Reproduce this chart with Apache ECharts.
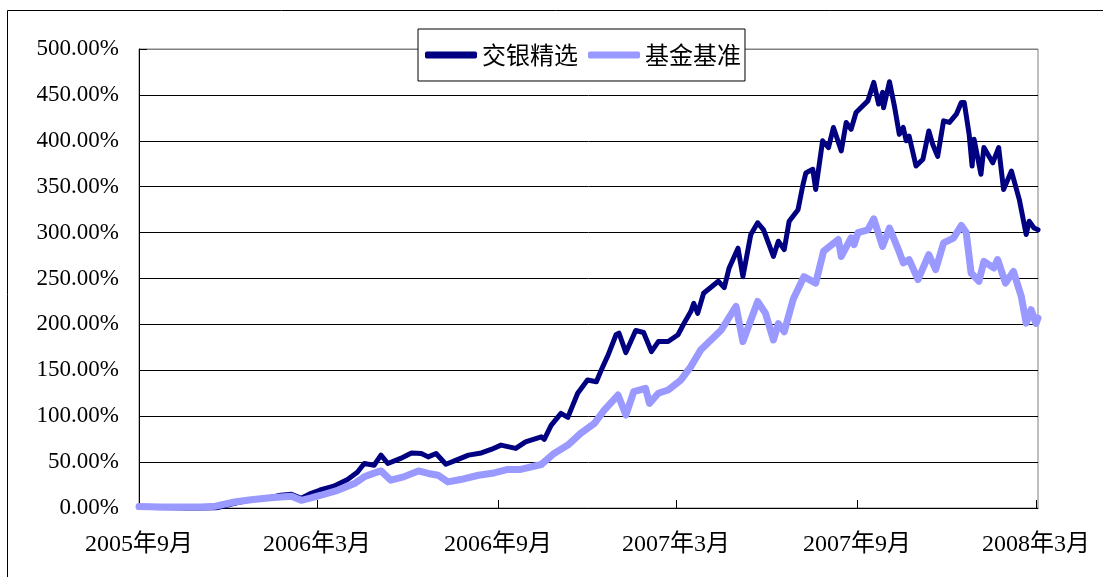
<!DOCTYPE html>
<html>
<head>
<meta charset="utf-8">
<script src="https://cdn.jsdelivr.net/npm/echarts@6/dist/echarts.min.js"></script>
<style>
html,body{margin:0;padding:0;background:#fff;}
#chart{width:1103px;height:577px;}
</style>
</head>
<body>
<div id="chart"></div>
<script>
// x values: days since 2005-09-01
const seriesNames = ['交银精选', '基金基准'];
const tickDays = [0, 181, 365, 546, 730, 912];
const tickLabels = ['2005年9月', '2006年3月', '2006年9月', '2007年3月', '2007年9月', '2008年3月'];

const fundDays = [0,12,33,48,63,78,97,114,131,144,155,165,175,182,185,198,212,222,229,239,246,253,266,277,287,294,302,312,320,335,348,358,368,383,393,409,412,419,429,436,446,456,465,470,477,485,488,495,505,513,521,528,538,548,554,561,564,568,574,589,595,600,609,614,622,629,635,645,650,656,661,670,675,678,685,688,695,701,706,714,719,724,729,741,747,752,756,757,763,768,773,777,780,783,790,797,803,807,812,818,824,831,836,839,844,847,849,856,859,868,874,879,887,895,902,905,910,914];
const fundValues = [0.5,0.5,0,-0.5,-0.5,0,5,9,11,14,15,10.6,16,18.6,20,23.7,31,39,48.5,46.6,57.6,48.5,54,60,59.4,55.7,59.4,47.7,51,57.6,60,63.8,68.5,64.9,72,77.6,74.7,90,103,98.7,125,139.5,137.6,150.4,166.8,188.7,190.5,169.3,193.4,191.2,170.4,181.3,181.3,188.7,201,214,223,212,234,247,240,261.5,283,252,298,310.7,303,274,290.6,281.5,312.4,325,352,365,369,347,400,392.6,414.5,389,420,412.6,430.8,443.5,463.6,440,452.7,436,464.3,438,407,414.5,400,405,372.5,380,410.7,396,383,421.7,420,429,441.8,441.8,407,372.5,401.7,363.5,392.6,376,392.6,347,367,336,298,312.4,305,303];

const benchDays = [0,22,43,63,78,97,114,131,144,155,165,175,185,202,219,229,239,246,256,269,284,294,304,314,327,345,361,375,388,409,422,436,449,463,473,487,495,503,515,519,528,538,551,561,571,592,607,614,629,637,645,650,656,665,676,688,696,711,714,724,727,731,741,747,756,763,772,777,783,792,803,810,818,828,836,841,846,854,859,869,873,881,889,897,902,907,912,914];
const benchValues = [1.5,1,1,1,2,6.5,9,11,12,12.8,8.4,11,13.9,19.3,26.6,34,38,40.4,30.3,33.9,40.4,37.6,35.7,28.4,31,35.7,38.2,42,42,47.4,59.4,68.5,81.3,92.2,106.7,123,101.3,126.7,130.4,114,125,128.6,139.5,154,172,194,219.6,181.3,225,212,183,201,192,227,252,245,279.7,292.4,274,294.3,287,300,303,315,285,305,281.5,267,270.6,248.8,276,259.7,288.8,294,307.7,300,256,247,268.7,261.5,270.6,245,257.8,230.5,201.4,216,201,206.9];

const fundData = fundDays.map((d, i) => [d, fundValues[i]]);
const benchData = benchDays.map((d, i) => [d, benchValues[i]]);

const FONT = "'Liberation Serif', 'Noto Sans CJK SC', serif";
const gridColors = ['#000','#000','#000','#000','#000','#000','#000','#000','#000','#000','#808080'];

const chart = echarts.init(document.getElementById('chart'));
chart.setOption({
  backgroundColor: '#fff',
  animation: false,
  graphic: [{
    type: 'rect', silent: true, z: -1,
    shape: {x: 7.5, y: 10.5, width: 1200, height: 700},
    style: {fill: 'none', stroke: '#000', lineWidth: 1}
  }],
  grid: {left: 139, right: 65, top: 49, bottom: 69, show: true, borderColor: '#808080', borderWidth: 1, backgroundColor: '#fff'},
  legend: {
    left: 418, top: 29,
    padding: [14, 4, 14, 7],
    itemGap: 10, itemWidth: 52, itemHeight: 7,
    icon: 'roundRect',
    borderColor: '#000', borderWidth: 1, backgroundColor: '#fff',
    textStyle: {fontSize: 24, fontFamily: "'Noto Sans CJK SC', sans-serif", color: '#000'},
    data: seriesNames
  },
  xAxis: {
    type: 'value', min: 0, max: 914,
    axisLine: {lineStyle: {color: '#000', width: 1}},
    axisTick: {inside: true, length: 8, customValues: tickDays, lineStyle: {color: '#000'}},
    axisLabel: {
      customValues: tickDays,
      formatter: v => tickLabels[tickDays.indexOf(v)] || '',
      fontSize: 24, fontFamily: FONT, color: '#000', margin: 25
    },
    splitLine: {show: false}
  },
  yAxis: {
    type: 'value', min: 0, max: 500, interval: 50,
    axisLine: {show: true, lineStyle: {color: '#000', width: 1}},
    axisTick: {show: true, inside: true, length: 8, lineStyle: {color: '#000'}},
    axisLabel: {formatter: v => v.toFixed(2) + '%', fontSize: 23, fontFamily: FONT, color: '#000', margin: 20},
    splitLine: {show: true, lineStyle: {color: gridColors, width: 1}}
  },
  series: [
    {
      name: seriesNames[0], type: 'line', data: fundData, showSymbol: false,
      itemStyle: {color: '#000080'},
      lineStyle: {color: '#000080', width: 5, cap: 'round', join: 'round'}
    },
    {
      name: seriesNames[1], type: 'line', data: benchData, showSymbol: false,
      itemStyle: {color: '#9999FF'},
      lineStyle: {color: '#9999FF', width: 7, cap: 'round', join: 'round'}
    }
  ]
});
</script>
</body>
</html>
